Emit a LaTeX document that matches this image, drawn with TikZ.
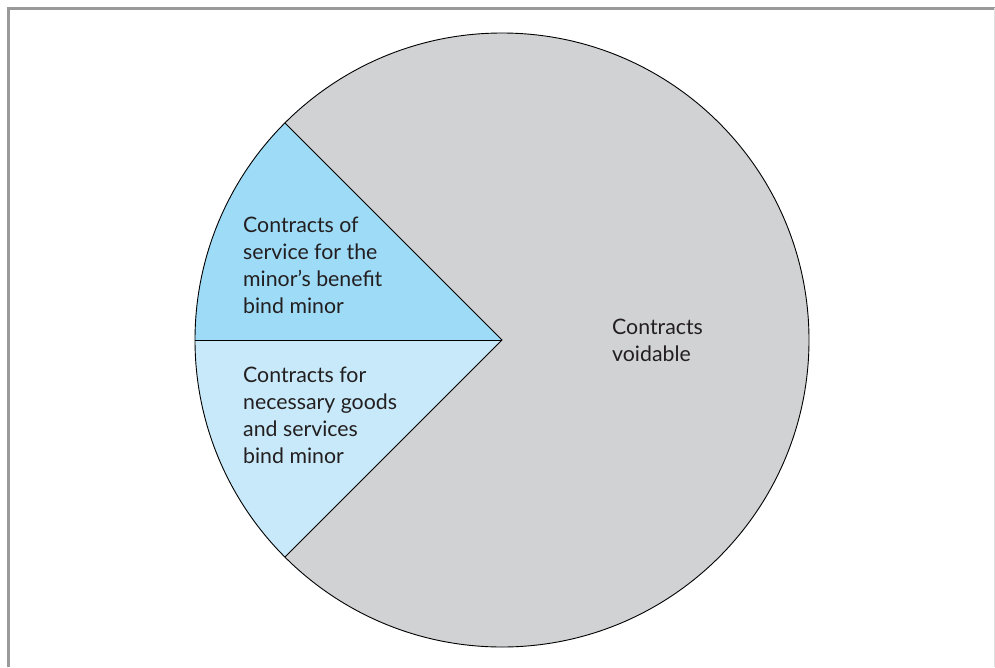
\documentclass[tikz,border=0pt]{standalone}
\usepackage{fontspec}
\setmainfont{Lato}
\definecolor{piegray}{HTML}{D1D2D4}
\definecolor{bluedark}{HTML}{9DDBF7}
\definecolor{bluelight}{HTML}{C7E9F9}
\definecolor{framegray}{HTML}{9A9A9A}
\definecolor{textdark}{HTML}{231F20}
\begin{document}
\begin{tikzpicture}[x=1pt,y=-1pt,
  lbl/.style={font=\fontsize{21.3}{26.7}\selectfont, text=textdark, align=left, inner sep=0pt, anchor=base west},
  edge/.style={draw=black, line width=0.9pt}]
\useasboundingbox (0,0) rectangle (995,667);
\fill[white] (0,0) rectangle (995,667);
% frame
\draw[framegray, line width=3pt] (8,667) -- (8,8) -- (995,8);
\draw[gray!25, line width=1pt] (994.5,8) -- (994.5,667);
% pie
\coordinate (c) at (502,340);
\coordinate (p1) at (284.9,122.9);
\coordinate (p2) at (195,340);
\coordinate (p3) at (284.9,557.1);
\fill[piegray] (c) circle[radius=307];
\fill[bluedark] (c) -- (p1) arc[start angle=-135, end angle=-180, radius=307] -- cycle;
\fill[bluelight] (c) -- (p2) arc[start angle=180, end angle=135, radius=307] -- cycle;
\draw[edge] (c) circle[radius=307];
\draw[edge] (p1) -- (c) -- (p3);
\draw[edge] (c) -- (p2);
% labels
\node[lbl] (t1) at (243,313) {Contracts of\\service for the\\minor’s benefit\\bind minor};
\node[lbl] (t2) at (243,463) {Contracts for\\necessary goods\\and services\\bind minor};
\node[lbl] (t3) at (612,361) {Contracts\\voidable};
\end{tikzpicture}
\end{document}
